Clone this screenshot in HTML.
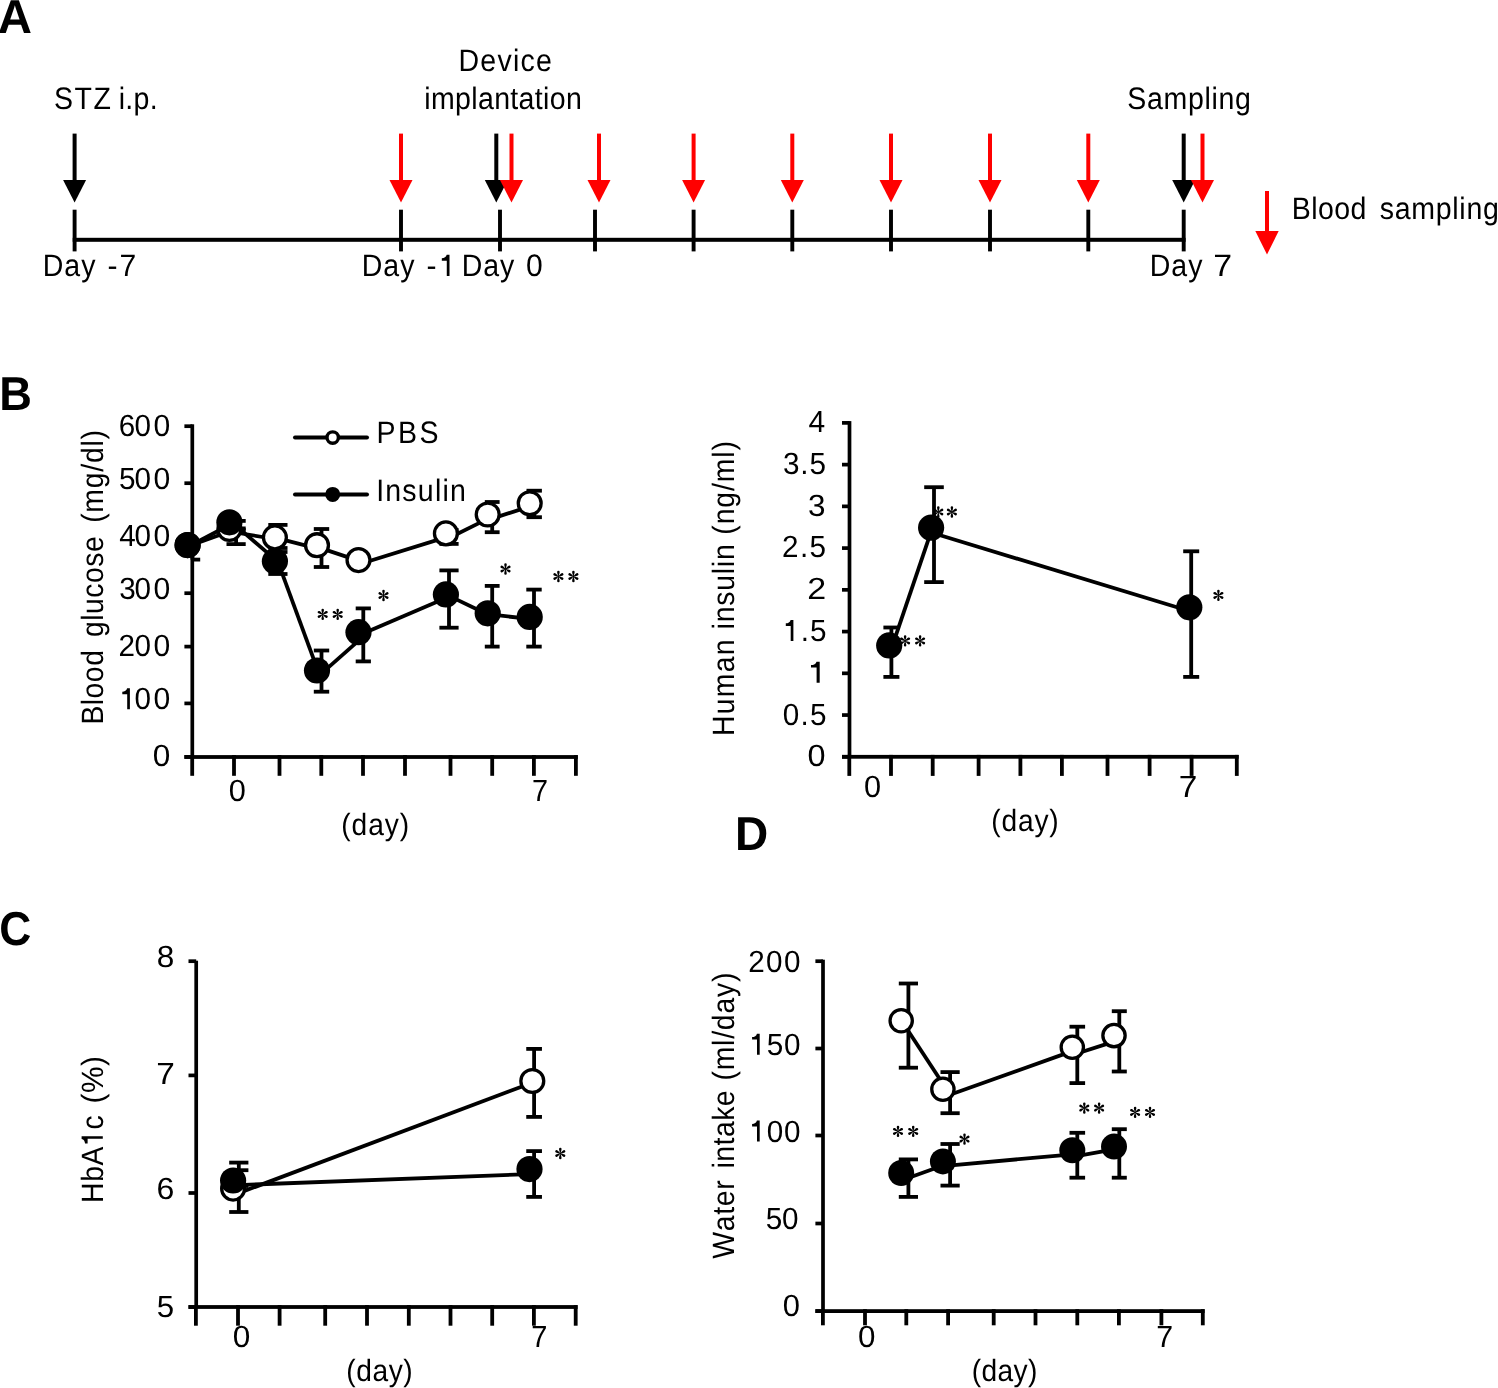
<!DOCTYPE html>
<html><head><meta charset="utf-8"><title>Figure</title>
<style>
html,body{margin:0;padding:0;background:#fff;}
body{width:1498px;height:1388px;overflow:hidden;}
svg{display:block;font-family:"Liberation Sans", sans-serif;font-kerning:none;will-change:transform;}
text{fill:#000;}
</style></head><body>
<svg width="1498" height="1388" viewBox="0 0 1498 1388" text-rendering="geometricPrecision">
<defs><g id="ast"><g transform="rotate(0)"><path d="M-0.3,0 C-0.5,-1.5 -1.25,-3.3 -1.25,-4.4 A1.25,1.25 0 1 1 1.25,-4.4 C1.25,-3.3 0.5,-1.5 0.3,0 Z"/></g><g transform="rotate(60)"><path d="M-0.3,0 C-0.5,-1.5 -1.25,-3.3 -1.25,-4.4 A1.25,1.25 0 1 1 1.25,-4.4 C1.25,-3.3 0.5,-1.5 0.3,0 Z"/></g><g transform="rotate(120)"><path d="M-0.3,0 C-0.5,-1.5 -1.25,-3.3 -1.25,-4.4 A1.25,1.25 0 1 1 1.25,-4.4 C1.25,-3.3 0.5,-1.5 0.3,0 Z"/></g><g transform="rotate(180)"><path d="M-0.3,0 C-0.5,-1.5 -1.25,-3.3 -1.25,-4.4 A1.25,1.25 0 1 1 1.25,-4.4 C1.25,-3.3 0.5,-1.5 0.3,0 Z"/></g><g transform="rotate(240)"><path d="M-0.3,0 C-0.5,-1.5 -1.25,-3.3 -1.25,-4.4 A1.25,1.25 0 1 1 1.25,-4.4 C1.25,-3.3 0.5,-1.5 0.3,0 Z"/></g><g transform="rotate(300)"><path d="M-0.3,0 C-0.5,-1.5 -1.25,-3.3 -1.25,-4.4 A1.25,1.25 0 1 1 1.25,-4.4 C1.25,-3.3 0.5,-1.5 0.3,0 Z"/></g><circle r="0.6"/></g></defs>
<rect width="1498" height="1388" fill="#fff"/>
<g transform="translate(0,33.4)">
<text x="-2.18" y="0" font-size="47.5" font-weight="700" textLength="34.23" lengthAdjust="spacingAndGlyphs">A</text>
</g>
<g transform="translate(0,109.1)">
<g transform="translate(55.2,0) scale(0.92,1)">
<text x="-1.41" y="0" font-size="31" textLength="62.05" lengthAdjust="spacing">STZ</text>
</g>
</g>
<g transform="translate(0,109.1)">
<g transform="translate(120.6,0) scale(0.92,1)">
<text x="-2.07" y="0" font-size="31" textLength="42.3" lengthAdjust="spacing">i.p.</text>
</g>
</g>
<g transform="translate(0,70.9)">
<g transform="translate(460.9,0) scale(0.92,1)">
<text x="-2.54" y="0" font-size="31" textLength="101.31" lengthAdjust="spacing">Device</text>
</g>
</g>
<g transform="translate(0,109)">
<g transform="translate(426.2,0) scale(0.92,1)">
<text x="-2.07" y="0" font-size="31" textLength="171.26" lengthAdjust="spacing">implantation</text>
</g>
</g>
<g transform="translate(0,108.8)">
<g transform="translate(1128.6,0) scale(0.92,1)">
<text x="-1.41" y="0" font-size="31" textLength="134.28" lengthAdjust="spacing">Sampling</text>
</g>
</g>
<g transform="translate(0,219.1)">
<g transform="translate(1294.2,0) scale(0.92,1)">
<text x="-2.54" y="0" font-size="31" textLength="81.06" lengthAdjust="spacing">Blood</text>
</g>
</g>
<g transform="translate(0,219.1)">
<g transform="translate(1380.5,0) scale(0.92,1)">
<text x="-0.86" y="0" font-size="31" textLength="129.49" lengthAdjust="spacing">sampling</text>
</g>
</g>
<g transform="translate(0,276.2)">
<g transform="translate(45,0) scale(0.92,1)">
<text x="-2.54" y="0" font-size="31" textLength="57.39" lengthAdjust="spacing">Day</text>
</g>
</g>
<g transform="translate(0,276.2)">
<g transform="translate(108.8,0) scale(0.97,1)">
<text x="-1.38" y="0" font-size="31" textLength="29.74" lengthAdjust="spacing">-7</text>
</g>
</g>
<g transform="translate(0,276)">
<g transform="translate(364.1,0) scale(0.92,1)">
<text x="-2.54" y="0" font-size="31" textLength="57.28" lengthAdjust="spacing">Day</text>
</g>
</g>
<g transform="translate(0,276)">
<g transform="translate(427.8,0) scale(0.97,1)">
<text x="-1.38" y="0" font-size="31" textLength="30.45" lengthAdjust="spacing">-&#8199;</text>
<path d="M510,0 L510,1010 L172,1010 L172,1180 C340,1190 470,1260 505,1409 L696,1409 L696,0 Z" transform="translate(11.84,0) scale(0.01514,-0.01514)"/>
</g>
</g>
<g transform="translate(0,276)">
<g transform="translate(464.2,0) scale(0.92,1)">
<text x="-2.54" y="0" font-size="31" textLength="56.84" lengthAdjust="spacing">Day</text>
</g>
</g>
<g transform="translate(0,276)">
<text x="526.02" y="0" font-size="31" textLength="16.75" lengthAdjust="spacingAndGlyphs">0</text>
</g>
<g transform="translate(0,275.8)">
<g transform="translate(1152,0) scale(0.92,1)">
<text x="-2.54" y="0" font-size="31" textLength="57.39" lengthAdjust="spacing">Day</text>
</g>
</g>
<g transform="translate(0,275.8)">
<text x="1213.16" y="0" font-size="31" textLength="18.84" lengthAdjust="spacingAndGlyphs">7</text>
</g>
<rect x="72.7" y="237.8" width="1112.9" height="4" fill="#000"/>
<rect x="72.65" y="209.7" width="3.9" height="41.7" fill="#000"/>
<rect x="399.05" y="209.7" width="3.9" height="41.7" fill="#000"/>
<rect x="498.05" y="209.7" width="3.9" height="41.7" fill="#000"/>
<rect x="593.05" y="209.7" width="3.9" height="41.7" fill="#000"/>
<rect x="691.65" y="209.7" width="3.9" height="41.7" fill="#000"/>
<rect x="790.35" y="209.7" width="3.9" height="41.7" fill="#000"/>
<rect x="889.05" y="209.7" width="3.9" height="41.7" fill="#000"/>
<rect x="988.05" y="209.7" width="3.9" height="41.7" fill="#000"/>
<rect x="1086.35" y="209.7" width="3.9" height="41.7" fill="#000"/>
<rect x="1181.75" y="209.7" width="3.9" height="41.7" fill="#000"/>
<rect x="72.6" y="133.6" width="4" height="47.4" fill="#000"/>
<polygon points="63.1,180 86.1,180 74.6,202.6" fill="#000"/>
<rect x="399" y="133.6" width="4" height="47.4" fill="#ff0000"/>
<polygon points="389.5,180 412.5,180 401,202.6" fill="#ff0000"/>
<rect x="494.3" y="133.6" width="4" height="47.4" fill="#000"/>
<polygon points="484.8,180 507.8,180 496.3,202.6" fill="#000"/>
<rect x="509.5" y="133.6" width="4" height="47.4" fill="#ff0000"/>
<polygon points="500,180 523,180 511.5,202.6" fill="#ff0000"/>
<rect x="597" y="133.6" width="4" height="47.4" fill="#ff0000"/>
<polygon points="587.5,180 610.5,180 599,202.6" fill="#ff0000"/>
<rect x="691.6" y="133.6" width="4" height="47.4" fill="#ff0000"/>
<polygon points="682.1,180 705.1,180 693.6,202.6" fill="#ff0000"/>
<rect x="790.3" y="133.6" width="4" height="47.4" fill="#ff0000"/>
<polygon points="780.8,180 803.8,180 792.3,202.6" fill="#ff0000"/>
<rect x="889" y="133.6" width="4" height="47.4" fill="#ff0000"/>
<polygon points="879.5,180 902.5,180 891,202.6" fill="#ff0000"/>
<rect x="988" y="133.6" width="4" height="47.4" fill="#ff0000"/>
<polygon points="978.5,180 1001.5,180 990,202.6" fill="#ff0000"/>
<rect x="1086.3" y="133.6" width="4" height="47.4" fill="#ff0000"/>
<polygon points="1076.8,180 1099.8,180 1088.3,202.6" fill="#ff0000"/>
<rect x="1181.7" y="133.6" width="4" height="47.4" fill="#000"/>
<polygon points="1172.2,180 1195.2,180 1183.7,202.6" fill="#000"/>
<rect x="1200.5" y="133.6" width="4" height="47.4" fill="#ff0000"/>
<polygon points="1191,180 1214,180 1202.5,202.6" fill="#ff0000"/>
<rect x="1265" y="191" width="4" height="41" fill="#ff0000"/>
<polygon points="1255.3,231 1278.7,231 1267,254.6" fill="#ff0000"/>
<g transform="translate(0,409.8)">
<text x="-0.83" y="0" font-size="47.5" font-weight="700" textLength="32.68" lengthAdjust="spacingAndGlyphs">B</text>
</g>
<rect x="190.45" y="424.3" width="3.7" height="332.7" fill="#000"/>
<rect x="184.4" y="755.05" width="7.9" height="3.7" fill="#000"/>
<rect x="184.4" y="701.55" width="7.9" height="3.7" fill="#000"/>
<rect x="184.4" y="644.75" width="7.9" height="3.7" fill="#000"/>
<rect x="184.4" y="591.35" width="7.9" height="3.7" fill="#000"/>
<rect x="184.4" y="536.35" width="7.9" height="3.7" fill="#000"/>
<rect x="184.4" y="481.35" width="7.9" height="3.7" fill="#000"/>
<rect x="184.4" y="424.35" width="7.9" height="3.7" fill="#000"/>
<rect x="184.4" y="755.1" width="393.4" height="3.8" fill="#000"/>
<rect x="190.3" y="755.1" width="3.8" height="20.7" fill="#000"/>
<rect x="232.1" y="755.1" width="3.8" height="20.7" fill="#000"/>
<rect x="277.6" y="755.1" width="3.8" height="20.7" fill="#000"/>
<rect x="319.4" y="755.1" width="3.8" height="20.7" fill="#000"/>
<rect x="361.1" y="755.1" width="3.8" height="20.7" fill="#000"/>
<rect x="403.1" y="755.1" width="3.8" height="20.7" fill="#000"/>
<rect x="448.6" y="755.1" width="3.8" height="20.7" fill="#000"/>
<rect x="490.3" y="755.1" width="3.8" height="20.7" fill="#000"/>
<rect x="532" y="755.1" width="3.8" height="20.7" fill="#000"/>
<rect x="574" y="755.1" width="3.8" height="20.7" fill="#000"/>
<g transform="translate(0,766.3)">
<text x="152.87" y="0" font-size="30.6" textLength="17.57" lengthAdjust="spacingAndGlyphs">0</text>
</g>
<g transform="translate(0,709.3)">
<g transform="translate(122.3,0) scale(0.97,1)">
<text x="-2.57" y="0" font-size="30.6" textLength="32.12" lengthAdjust="spacing">&#8199;0</text>
<path d="M510,0 L510,1010 L172,1010 L172,1180 C340,1190 470,1260 505,1409 L696,1409 L696,0 Z" transform="translate(-2.57,0) scale(0.01494,-0.01494)"/>
</g>
</g>
<g transform="translate(0,709.3)">
<text x="153.62" y="0" font-size="30.6" textLength="16.75" lengthAdjust="spacingAndGlyphs">0</text>
</g>
<g transform="translate(0,656)">
<g transform="translate(119.9,0) scale(0.97,1)">
<text x="-1.54" y="0" font-size="30.6" textLength="33.56" lengthAdjust="spacing">20</text>
</g>
</g>
<g transform="translate(0,656)">
<text x="153.62" y="0" font-size="30.6" textLength="16.75" lengthAdjust="spacingAndGlyphs">0</text>
</g>
<g transform="translate(0,599.3)">
<g transform="translate(120.4,0) scale(0.97,1)">
<text x="-1.17" y="0" font-size="30.6" textLength="32.67" lengthAdjust="spacing">30</text>
</g>
</g>
<g transform="translate(0,599.3)">
<text x="153.62" y="0" font-size="30.6" textLength="16.75" lengthAdjust="spacingAndGlyphs">0</text>
</g>
<g transform="translate(0,545.8)">
<g transform="translate(119.9,0) scale(0.97,1)">
<text x="-0.7" y="0" font-size="30.6" textLength="32.72" lengthAdjust="spacing">40</text>
</g>
</g>
<g transform="translate(0,545.8)">
<text x="153.62" y="0" font-size="30.6" textLength="16.75" lengthAdjust="spacingAndGlyphs">0</text>
</g>
<g transform="translate(0,489.2)">
<g transform="translate(120.1,0) scale(0.97,1)">
<text x="-1.23" y="0" font-size="30.6" textLength="33.04" lengthAdjust="spacing">50</text>
</g>
</g>
<g transform="translate(0,489.2)">
<text x="153.62" y="0" font-size="30.6" textLength="16.75" lengthAdjust="spacingAndGlyphs">0</text>
</g>
<g transform="translate(0,435.8)">
<g transform="translate(120.3,0) scale(0.97,1)">
<text x="-1.55" y="0" font-size="30.6" textLength="33.16" lengthAdjust="spacing">60</text>
</g>
</g>
<g transform="translate(0,435.8)">
<text x="153.62" y="0" font-size="30.6" textLength="16.75" lengthAdjust="spacingAndGlyphs">0</text>
</g>
<g transform="translate(0,800.5)">
<text x="228.8" y="0" font-size="30.6" textLength="17.1" lengthAdjust="spacingAndGlyphs">0</text>
</g>
<g transform="translate(0,800.7)">
<text x="531.92" y="0" font-size="30.6" textLength="16.03" lengthAdjust="spacingAndGlyphs">7</text>
</g>
<g transform="translate(0,834.5)">
<g transform="translate(343,0) scale(0.92,1)">
<text x="-1.9" y="0" font-size="30.6" textLength="73.9" lengthAdjust="spacing">(day)</text>
</g>
</g>
<g transform="translate(103,722.3) rotate(-90)">
<g transform="translate(0,0) scale(0.92,1)">
<text x="-2.53" y="0" font-size="30.8" textLength="81.03" lengthAdjust="spacing">Blood</text>
</g>
</g>
<g transform="translate(103,635.9) rotate(-90)">
<g transform="translate(0,0) scale(0.92,1)">
<text x="-1.29" y="0" font-size="30.8" textLength="109.51" lengthAdjust="spacing">glucose</text>
</g>
</g>
<g transform="translate(103,521.1) rotate(-90)">
<g transform="translate(0,0) scale(0.92,1)">
<text x="-1.91" y="0" font-size="30.8" textLength="100.89" lengthAdjust="spacing">(mg/dl)</text>
</g>
</g>
<line x1="295" y1="437.6" x2="367" y2="437.6" stroke="#000" stroke-width="4" stroke-linecap="round"/>
<circle cx="332.7" cy="437.6" r="5.7" fill="#fff" stroke="#000" stroke-width="3.4"/>
<g transform="translate(0,443.4)">
<g transform="translate(378.8,0) scale(0.92,1)">
<text x="-2.54" y="0" font-size="31" textLength="67.55" lengthAdjust="spacing">PBS</text>
</g>
</g>
<line x1="295" y1="494.4" x2="367" y2="494.4" stroke="#000" stroke-width="4" stroke-linecap="round"/>
<circle cx="332.7" cy="494.4" r="7.5" fill="#000"/>
<g transform="translate(0,500.8)">
<g transform="translate(378.8,0) scale(0.92,1)">
<text x="-2.86" y="0" font-size="31" textLength="97.48" lengthAdjust="spacing">Insulin</text>
</g>
</g>
<rect x="190.5" y="545" width="3.8" height="14.6" fill="#000"/>
<rect x="192.4" y="543.1" width="7.8" height="3.8" fill="#000"/>
<rect x="192.4" y="557.7" width="7.8" height="3.8" fill="#000"/>
<rect x="234.2" y="528.4" width="3.8" height="15.7" fill="#000"/>
<rect x="226.5" y="526.5" width="19.2" height="3.8" fill="#000"/>
<rect x="226.5" y="542.2" width="19.2" height="3.8" fill="#000"/>
<rect x="276" y="524.9" width="3.8" height="23.1" fill="#000"/>
<rect x="268.3" y="523" width="19.2" height="3.8" fill="#000"/>
<rect x="268.3" y="546.1" width="19.2" height="3.8" fill="#000"/>
<rect x="319.6" y="529" width="3.8" height="38" fill="#000"/>
<rect x="313.8" y="527.1" width="15.4" height="3.8" fill="#000"/>
<rect x="313.8" y="565.1" width="15.4" height="3.8" fill="#000"/>
<rect x="447.1" y="530" width="3.8" height="13.9" fill="#000"/>
<rect x="439.4" y="528.1" width="19.2" height="3.8" fill="#000"/>
<rect x="439.4" y="542" width="19.2" height="3.8" fill="#000"/>
<rect x="490.3" y="502" width="3.8" height="30.2" fill="#000"/>
<rect x="484.8" y="500.1" width="14.8" height="3.8" fill="#000"/>
<rect x="484.8" y="530.3" width="14.8" height="3.8" fill="#000"/>
<rect x="532.3" y="490.7" width="3.8" height="26.5" fill="#000"/>
<rect x="526.5" y="488.8" width="15.4" height="3.8" fill="#000"/>
<rect x="526.5" y="515.3" width="15.4" height="3.8" fill="#000"/>
<rect x="234.2" y="520.9" width="3.8" height="9.1" fill="#000"/>
<rect x="226.5" y="519" width="19.2" height="3.8" fill="#000"/>
<rect x="226.5" y="528.1" width="19.2" height="3.8" fill="#000"/>
<rect x="276" y="552" width="3.8" height="22" fill="#000"/>
<rect x="268.3" y="550.1" width="19.2" height="3.8" fill="#000"/>
<rect x="268.3" y="572.1" width="19.2" height="3.8" fill="#000"/>
<rect x="319.6" y="650.5" width="3.8" height="41.2" fill="#000"/>
<rect x="313.8" y="648.6" width="15.4" height="3.8" fill="#000"/>
<rect x="313.8" y="689.8" width="15.4" height="3.8" fill="#000"/>
<rect x="361.4" y="608.4" width="3.8" height="53" fill="#000"/>
<rect x="355.7" y="606.5" width="15.2" height="3.8" fill="#000"/>
<rect x="355.7" y="659.5" width="15.2" height="3.8" fill="#000"/>
<rect x="447.1" y="570.4" width="3.8" height="57.3" fill="#000"/>
<rect x="439.4" y="568.5" width="19.2" height="3.8" fill="#000"/>
<rect x="439.4" y="625.8" width="19.2" height="3.8" fill="#000"/>
<rect x="490.3" y="585.9" width="3.8" height="60.7" fill="#000"/>
<rect x="484.8" y="584" width="14.8" height="3.8" fill="#000"/>
<rect x="484.8" y="644.7" width="14.8" height="3.8" fill="#000"/>
<rect x="532.1" y="589.6" width="3.8" height="57" fill="#000"/>
<rect x="526.3" y="587.7" width="15.4" height="3.8" fill="#000"/>
<rect x="526.3" y="644.7" width="15.4" height="3.8" fill="#000"/>
<line x1="187.6" y1="546.5" x2="229.4" y2="531.5" stroke="#000" stroke-width="3.8"/>
<line x1="229.4" y1="531.5" x2="274.9" y2="539" stroke="#000" stroke-width="3.8"/>
<line x1="274.9" y1="537.69" x2="316.9" y2="548.32" stroke="#000" stroke-width="3.8"/>
<line x1="316.9" y1="546.87" x2="358.2" y2="560.63" stroke="#000" stroke-width="3.8"/>
<line x1="358.2" y1="564.5" x2="445.6" y2="537.34" stroke="#000" stroke-width="3.8"/>
<line x1="445.6" y1="539.72" x2="487.5" y2="518.87" stroke="#000" stroke-width="3.8"/>
<line x1="487.5" y1="520.09" x2="530" y2="506.4" stroke="#000" stroke-width="3.8"/>
<circle cx="187.6" cy="545.1" r="11.45" fill="#fff" stroke="#000" stroke-width="3.3"/>
<circle cx="229.4" cy="529" r="11.45" fill="#fff" stroke="#000" stroke-width="3.3"/>
<circle cx="274.9" cy="537.4" r="11.45" fill="#fff" stroke="#000" stroke-width="3.3"/>
<circle cx="317" cy="545.2" r="11.45" fill="#fff" stroke="#000" stroke-width="3.3"/>
<circle cx="358.5" cy="560.1" r="11.45" fill="#fff" stroke="#000" stroke-width="3.3"/>
<circle cx="445.9" cy="533.4" r="11.45" fill="#fff" stroke="#000" stroke-width="3.3"/>
<circle cx="487.7" cy="514.5" r="11.45" fill="#fff" stroke="#000" stroke-width="3.3"/>
<circle cx="529.7" cy="503.3" r="11.45" fill="#fff" stroke="#000" stroke-width="3.3"/>
<line x1="187.6" y1="547" x2="229.4" y2="525" stroke="#000" stroke-width="3.8"/>
<line x1="229.4" y1="520.09" x2="274.8" y2="559.09" stroke="#000" stroke-width="3.8"/>
<line x1="274.8" y1="553.36" x2="316.8" y2="667.69" stroke="#000" stroke-width="3.8"/>
<line x1="316.8" y1="677.69" x2="358.4" y2="640.92" stroke="#000" stroke-width="3.8"/>
<line x1="358.4" y1="635.53" x2="445.9" y2="598.05" stroke="#000" stroke-width="3.8"/>
<line x1="445.9" y1="594.35" x2="487.8" y2="614.55" stroke="#000" stroke-width="3.8"/>
<line x1="487.8" y1="614.22" x2="529.6" y2="618.87" stroke="#000" stroke-width="3.8"/>
<circle cx="187.6" cy="545.1" r="13.1" fill="#000"/>
<circle cx="229.4" cy="522.3" r="13.1" fill="#000"/>
<circle cx="274.9" cy="561.2" r="13.1" fill="#000"/>
<circle cx="317" cy="670.5" r="13.1" fill="#000"/>
<circle cx="358.5" cy="632.2" r="13.1" fill="#000"/>
<circle cx="445.9" cy="594.4" r="13.1" fill="#000"/>
<circle cx="487.7" cy="613.3" r="13.1" fill="#000"/>
<circle cx="529.7" cy="616.9" r="13.1" fill="#000"/>
<use href="#ast" transform="translate(322.7,614.4) scale(1)"/>
<use href="#ast" transform="translate(337.7,614.4) scale(1)"/>
<use href="#ast" transform="translate(383.5,595.5) scale(1)"/>
<use href="#ast" transform="translate(505.5,569) scale(1)"/>
<use href="#ast" transform="translate(558.4,576.5) scale(1)"/>
<use href="#ast" transform="translate(573.4,576.5) scale(1)"/>
<rect x="847.65" y="421.1" width="3.7" height="335.9" fill="#000"/>
<rect x="842" y="754.95" width="7.5" height="3.7" fill="#000"/>
<rect x="842" y="713.21" width="7.5" height="3.7" fill="#000"/>
<rect x="842" y="671.47" width="7.5" height="3.7" fill="#000"/>
<rect x="842" y="629.73" width="7.5" height="3.7" fill="#000"/>
<rect x="842" y="587.99" width="7.5" height="3.7" fill="#000"/>
<rect x="842" y="546.25" width="7.5" height="3.7" fill="#000"/>
<rect x="842" y="504.51" width="7.5" height="3.7" fill="#000"/>
<rect x="842" y="462.77" width="7.5" height="3.7" fill="#000"/>
<rect x="842" y="421.03" width="7.5" height="3.7" fill="#000"/>
<rect x="842" y="754.9" width="396.6" height="3.8" fill="#000"/>
<rect x="847.4" y="754.9" width="3.8" height="21" fill="#000"/>
<rect x="889.1" y="754.9" width="3.8" height="21" fill="#000"/>
<rect x="930.8" y="754.9" width="3.8" height="21" fill="#000"/>
<rect x="976.7" y="754.9" width="3.8" height="21" fill="#000"/>
<rect x="1018.5" y="754.9" width="3.8" height="21" fill="#000"/>
<rect x="1060" y="754.9" width="3.8" height="21" fill="#000"/>
<rect x="1105.6" y="754.9" width="3.8" height="21" fill="#000"/>
<rect x="1147.7" y="754.9" width="3.8" height="21" fill="#000"/>
<rect x="1189.7" y="754.9" width="3.8" height="21" fill="#000"/>
<rect x="1234.9" y="754.9" width="3.8" height="21" fill="#000"/>
<g transform="translate(0,766.3)">
<text x="807.63" y="0" font-size="30.6" textLength="18.03" lengthAdjust="spacingAndGlyphs">0</text>
</g>
<g transform="translate(0,724.5)">
<g transform="translate(784,0) scale(0.97,1)">
<text x="-1.2" y="0" font-size="30.6" textLength="44.95" lengthAdjust="spacing">0.5</text>
</g>
</g>
<g transform="translate(0,682.7)">
<text x="808.14" y="0" font-size="30.6" textLength="18.91" lengthAdjust="spacingAndGlyphs">&#8199;</text>
<path d="M510,0 L510,1010 L172,1010 L172,1180 C340,1190 470,1260 505,1409 L696,1409 L696,0 Z" transform="translate(808.14,0) scale(0.01660,-0.01494)"/>
</g>
<g transform="translate(0,641)">
<g transform="translate(785.8,0) scale(0.97,1)">
<text x="-2.57" y="0" font-size="30.6" textLength="44.47" lengthAdjust="spacing">&#8199;.5</text>
<path d="M510,0 L510,1010 L172,1010 L172,1180 C340,1190 470,1260 505,1409 L696,1409 L696,0 Z" transform="translate(-2.57,0) scale(0.01494,-0.01494)"/>
</g>
</g>
<g transform="translate(0,599.2)">
<text x="807.19" y="0" font-size="30.6" textLength="18.92" lengthAdjust="spacingAndGlyphs">2</text>
</g>
<g transform="translate(0,556.8)">
<g transform="translate(783.6,0) scale(0.97,1)">
<text x="-1.54" y="0" font-size="30.6" textLength="45.2" lengthAdjust="spacing">2.5</text>
</g>
</g>
<g transform="translate(0,515.8)">
<text x="808.1" y="0" font-size="30.6" textLength="17.48" lengthAdjust="spacingAndGlyphs">3</text>
</g>
<g transform="translate(0,473.9)">
<g transform="translate(784,0) scale(0.97,1)">
<text x="-1.17" y="0" font-size="30.6" textLength="44.41" lengthAdjust="spacing">3.5</text>
</g>
</g>
<g transform="translate(0,431.5)">
<text x="808.41" y="0" font-size="30.6" textLength="16.67" lengthAdjust="spacingAndGlyphs">4</text>
</g>
<g transform="translate(0,796.9)">
<text x="864" y="0" font-size="30.6" textLength="17.1" lengthAdjust="spacingAndGlyphs">0</text>
</g>
<g transform="translate(0,796.7)">
<text x="1178.79" y="0" font-size="30.6" textLength="18.6" lengthAdjust="spacingAndGlyphs">7</text>
</g>
<g transform="translate(0,830.6)">
<g transform="translate(993.1,0) scale(0.92,1)">
<text x="-1.9" y="0" font-size="30.6" textLength="73.14" lengthAdjust="spacing">(day)</text>
</g>
</g>
<g transform="translate(734.2,733.8) rotate(-90)">
<g transform="translate(0,0) scale(0.92,1)">
<text x="-2.53" y="0" font-size="30.8" textLength="105.18" lengthAdjust="spacing">Human</text>
</g>
</g>
<g transform="translate(734.2,627.5) rotate(-90)">
<g transform="translate(0,0) scale(0.92,1)">
<text x="-2.06" y="0" font-size="30.8" textLength="92.54" lengthAdjust="spacing">insulin</text>
</g>
</g>
<g transform="translate(734.2,532.9) rotate(-90)">
<g transform="translate(0,0) scale(0.92,1)">
<text x="-1.91" y="0" font-size="30.8" textLength="101.65" lengthAdjust="spacing">(ng/ml)</text>
</g>
</g>
<use href="#ast" transform="translate(905.1,640.9) scale(1)"/>
<use href="#ast" transform="translate(920.1,640.9) scale(1)"/>
<use href="#ast" transform="translate(938.3,512) scale(1)"/>
<use href="#ast" transform="translate(951.9,512) scale(1)"/>
<use href="#ast" transform="translate(1218.4,595.4) scale(1)"/>
<rect x="889.5" y="627.5" width="3.8" height="49.4" fill="#000"/>
<rect x="883.4" y="625.6" width="16" height="3.8" fill="#000"/>
<rect x="883.4" y="675" width="16" height="3.8" fill="#000"/>
<rect x="932.1" y="487.2" width="3.8" height="94.9" fill="#000"/>
<rect x="924.2" y="485.3" width="19.6" height="3.8" fill="#000"/>
<rect x="924.2" y="580.2" width="19.6" height="3.8" fill="#000"/>
<rect x="1189.3" y="551.3" width="3.8" height="125.6" fill="#000"/>
<rect x="1183.2" y="549.4" width="16" height="3.8" fill="#000"/>
<rect x="1183.2" y="675" width="16" height="3.8" fill="#000"/>
<line x1="889.2" y1="655.14" x2="931.1" y2="531.72" stroke="#000" stroke-width="3.8"/>
<line x1="931.1" y1="532.49" x2="1189.3" y2="611.01" stroke="#000" stroke-width="3.8"/>
<circle cx="889.2" cy="645.4" r="13.1" fill="#000"/>
<circle cx="931.1" cy="527.7" r="13.1" fill="#000"/>
<circle cx="1189.3" cy="607.3" r="13.1" fill="#000"/>
<g transform="translate(0,945.2)">
<text x="-0.82" y="0" font-size="47.5" font-weight="700" textLength="32.03" lengthAdjust="spacingAndGlyphs">C</text>
</g>
<rect x="194.35" y="960.7" width="3.7" height="346.3" fill="#000"/>
<rect x="188.5" y="1305.15" width="7.7" height="3.7" fill="#000"/>
<rect x="188.5" y="1191.15" width="7.7" height="3.7" fill="#000"/>
<rect x="188.5" y="1073.55" width="7.7" height="3.7" fill="#000"/>
<rect x="188.5" y="959.35" width="7.7" height="3.7" fill="#000"/>
<rect x="188.5" y="1305.1" width="389.1" height="3.8" fill="#000"/>
<rect x="194" y="1305.1" width="3.8" height="20.6" fill="#000"/>
<rect x="236.1" y="1305.1" width="3.8" height="20.6" fill="#000"/>
<rect x="277.7" y="1305.1" width="3.8" height="20.6" fill="#000"/>
<rect x="323.3" y="1305.1" width="3.8" height="20.6" fill="#000"/>
<rect x="365.1" y="1305.1" width="3.8" height="20.6" fill="#000"/>
<rect x="406.9" y="1305.1" width="3.8" height="20.6" fill="#000"/>
<rect x="448.6" y="1305.1" width="3.8" height="20.6" fill="#000"/>
<rect x="490.3" y="1305.1" width="3.8" height="20.6" fill="#000"/>
<rect x="532" y="1305.1" width="3.8" height="20.6" fill="#000"/>
<rect x="573.8" y="1305.1" width="3.8" height="20.6" fill="#000"/>
<g transform="translate(0,1316.6)">
<text x="156.85" y="0" font-size="30.6" textLength="17.36" lengthAdjust="spacingAndGlyphs">5</text>
</g>
<g transform="translate(0,1198.9)">
<text x="156.47" y="0" font-size="30.6" textLength="17.84" lengthAdjust="spacingAndGlyphs">6</text>
</g>
<g transform="translate(0,1084.2)">
<text x="156.39" y="0" font-size="30.6" textLength="18.6" lengthAdjust="spacingAndGlyphs">7</text>
</g>
<g transform="translate(0,967.2)">
<text x="156.73" y="0" font-size="30.6" textLength="17.54" lengthAdjust="spacingAndGlyphs">8</text>
</g>
<g transform="translate(0,1346.9)">
<text x="232.87" y="0" font-size="30.6" textLength="17.57" lengthAdjust="spacingAndGlyphs">0</text>
</g>
<g transform="translate(0,1347)">
<text x="531.21" y="0" font-size="30.6" textLength="16.15" lengthAdjust="spacingAndGlyphs">7</text>
</g>
<g transform="translate(0,1381)">
<g transform="translate(347.9,0) scale(0.92,1)">
<text x="-1.9" y="0" font-size="30.6" textLength="72.38" lengthAdjust="spacing">(day)</text>
</g>
</g>
<g transform="translate(102.8,1200.6) rotate(-90)">
<g transform="translate(0,0) scale(0.92,1)">
<text x="-2.53" y="0" font-size="30.8" textLength="95.19" lengthAdjust="spacing">HbA&#8199;c</text>
<path d="M510,0 L510,1010 L172,1010 L172,1180 C340,1190 470,1260 505,1409 L696,1409 L696,0 Z" transform="translate(59.45,0) scale(0.01504,-0.01504)"/>
</g>
</g>
<g transform="translate(102.8,1101.6) rotate(-90)">
<g transform="translate(0,0) scale(0.97,1)">
<text x="-1.91" y="0" font-size="30.8" textLength="48.87" lengthAdjust="spacing">(%)</text>
</g>
</g>
<rect x="236.9" y="1162.6" width="3.8" height="49.4" fill="#000"/>
<rect x="229.2" y="1160.7" width="19.2" height="3.8" fill="#000"/>
<rect x="229.2" y="1210.1" width="19.2" height="3.8" fill="#000"/>
<rect x="236.9" y="1170.2" width="3.8" height="15.8" fill="#000"/>
<rect x="229.2" y="1168.3" width="19.2" height="3.8" fill="#000"/>
<rect x="229.2" y="1184.1" width="19.2" height="3.8" fill="#000"/>
<rect x="532.2" y="1048.9" width="3.8" height="68" fill="#000"/>
<rect x="526.25" y="1047" width="15.7" height="3.8" fill="#000"/>
<rect x="526.25" y="1115" width="15.7" height="3.8" fill="#000"/>
<rect x="532.2" y="1151.1" width="3.8" height="45.8" fill="#000"/>
<rect x="526.25" y="1149.2" width="15.7" height="3.8" fill="#000"/>
<rect x="526.25" y="1195" width="15.7" height="3.8" fill="#000"/>
<line x1="233.3" y1="1195.13" x2="532.8" y2="1082.5" stroke="#000" stroke-width="3.8"/>
<circle cx="233.1" cy="1188.6" r="11.45" fill="#fff" stroke="#000" stroke-width="3.3"/>
<line x1="231.9" y1="1185.36" x2="529.3" y2="1174.13" stroke="#000" stroke-width="3.8"/>
<circle cx="233.1" cy="1180.5" r="13.1" fill="#000"/>
<circle cx="532.3" cy="1081" r="11.45" fill="#fff" stroke="#000" stroke-width="3.3"/>
<circle cx="529.5" cy="1169.1" r="13.1" fill="#000"/>
<use href="#ast" transform="translate(560.3,1153.5) scale(1)"/>
<g transform="translate(0,849.7)">
<text x="735.12" y="0" font-size="47.5" font-weight="700" textLength="33.21" lengthAdjust="spacingAndGlyphs">D</text>
</g>
<rect x="821.15" y="959.7" width="3.7" height="351.4" fill="#000"/>
<rect x="815.4" y="1309.25" width="7.6" height="3.7" fill="#000"/>
<rect x="815.4" y="1221.65" width="7.6" height="3.7" fill="#000"/>
<rect x="815.4" y="1133.65" width="7.6" height="3.7" fill="#000"/>
<rect x="815.4" y="1046.65" width="7.6" height="3.7" fill="#000"/>
<rect x="815.4" y="959.35" width="7.6" height="3.7" fill="#000"/>
<rect x="815.4" y="1309.2" width="389.2" height="3.8" fill="#000"/>
<rect x="821" y="1309.2" width="3.8" height="16.1" fill="#000"/>
<rect x="863.1" y="1309.2" width="3.8" height="16.1" fill="#000"/>
<rect x="904.4" y="1309.2" width="3.8" height="16.1" fill="#000"/>
<rect x="946.2" y="1309.2" width="3.8" height="16.1" fill="#000"/>
<rect x="991.8" y="1309.2" width="3.8" height="16.1" fill="#000"/>
<rect x="1033.6" y="1309.2" width="3.8" height="16.1" fill="#000"/>
<rect x="1075.4" y="1309.2" width="3.8" height="16.1" fill="#000"/>
<rect x="1117" y="1309.2" width="3.8" height="16.1" fill="#000"/>
<rect x="1159.5" y="1309.2" width="3.8" height="16.1" fill="#000"/>
<rect x="1200.9" y="1309.2" width="3.8" height="16.1" fill="#000"/>
<g transform="translate(0,1316.3)">
<text x="782.89" y="0" font-size="30.6" textLength="17.22" lengthAdjust="spacingAndGlyphs">0</text>
</g>
<g transform="translate(0,1229.1)">
<g transform="translate(767,0) scale(0.97,1)">
<text x="-1.23" y="0" font-size="30.6" textLength="33.66" lengthAdjust="spacing">50</text>
</g>
</g>
<g transform="translate(0,1141.6)">
<g transform="translate(752.1,0) scale(0.97,1)">
<text x="-2.57" y="0" font-size="30.6" textLength="52.43" lengthAdjust="spacing">&#8199;00</text>
<path d="M510,0 L510,1010 L172,1010 L172,1180 C340,1190 470,1260 505,1409 L696,1409 L696,0 Z" transform="translate(-2.57,0) scale(0.01494,-0.01494)"/>
</g>
</g>
<g transform="translate(0,1054.7)">
<g transform="translate(752.1,0) scale(0.97,1)">
<text x="-2.57" y="0" font-size="30.6" textLength="52.43" lengthAdjust="spacing">&#8199;50</text>
<path d="M510,0 L510,1010 L172,1010 L172,1180 C340,1190 470,1260 505,1409 L696,1409 L696,0 Z" transform="translate(-2.57,0) scale(0.01494,-0.01494)"/>
</g>
</g>
<g transform="translate(0,971.5)">
<g transform="translate(749.8,0) scale(0.97,1)">
<text x="-1.54" y="0" font-size="30.6" textLength="53.77" lengthAdjust="spacing">200</text>
</g>
</g>
<g transform="translate(0,1346.9)">
<text x="858.07" y="0" font-size="30.6" textLength="17.45" lengthAdjust="spacingAndGlyphs">0</text>
</g>
<g transform="translate(0,1347)">
<text x="1156.14" y="0" font-size="30.6" textLength="16.88" lengthAdjust="spacingAndGlyphs">7</text>
</g>
<g transform="translate(0,1381.3)">
<g transform="translate(973.4,0) scale(0.92,1)">
<text x="-1.9" y="0" font-size="30.6" textLength="71.51" lengthAdjust="spacing">(day)</text>
</g>
</g>
<g transform="translate(734.4,1258.6) rotate(-90)">
<g transform="translate(0,0) scale(0.92,1)">
<text x="-0.14" y="0" font-size="30.8" textLength="85.21" lengthAdjust="spacing">Water</text>
</g>
</g>
<g transform="translate(734.4,1166.5) rotate(-90)">
<g transform="translate(0,0) scale(0.92,1)">
<text x="-2.06" y="0" font-size="30.8" textLength="84.84" lengthAdjust="spacing">intake</text>
</g>
</g>
<g transform="translate(734.4,1078.8) rotate(-90)">
<g transform="translate(0,0) scale(0.92,1)">
<text x="-1.91" y="0" font-size="30.8" textLength="117.3" lengthAdjust="spacing">(ml/day)</text>
</g>
</g>
<rect x="906.5" y="983.5" width="3.8" height="84.2" fill="#000"/>
<rect x="898.8" y="981.6" width="19.2" height="3.8" fill="#000"/>
<rect x="898.8" y="1065.8" width="19.2" height="3.8" fill="#000"/>
<rect x="948.2" y="1072.1" width="3.8" height="41.1" fill="#000"/>
<rect x="940.5" y="1070.2" width="19.2" height="3.8" fill="#000"/>
<rect x="940.5" y="1111.3" width="19.2" height="3.8" fill="#000"/>
<rect x="1075.4" y="1026.7" width="3.8" height="56.4" fill="#000"/>
<rect x="1069.5" y="1024.8" width="15.6" height="3.8" fill="#000"/>
<rect x="1069.5" y="1081.2" width="15.6" height="3.8" fill="#000"/>
<rect x="1117.4" y="1011.2" width="3.8" height="60.3" fill="#000"/>
<rect x="1111.8" y="1009.3" width="15" height="3.8" fill="#000"/>
<rect x="1111.8" y="1069.6" width="15" height="3.8" fill="#000"/>
<rect x="906.5" y="1159.4" width="3.8" height="37.5" fill="#000"/>
<rect x="898.8" y="1157.5" width="19.2" height="3.8" fill="#000"/>
<rect x="898.8" y="1195" width="19.2" height="3.8" fill="#000"/>
<rect x="948.2" y="1144" width="3.8" height="41.6" fill="#000"/>
<rect x="940.5" y="1142.1" width="19.2" height="3.8" fill="#000"/>
<rect x="940.5" y="1183.7" width="19.2" height="3.8" fill="#000"/>
<rect x="1075.4" y="1132.8" width="3.8" height="44.9" fill="#000"/>
<rect x="1069.5" y="1130.9" width="15.6" height="3.8" fill="#000"/>
<rect x="1069.5" y="1175.8" width="15.6" height="3.8" fill="#000"/>
<rect x="1117.4" y="1129.2" width="3.8" height="48.5" fill="#000"/>
<rect x="1111.8" y="1127.3" width="15" height="3.8" fill="#000"/>
<rect x="1111.8" y="1175.8" width="15" height="3.8" fill="#000"/>
<line x1="901.2" y1="1020.22" x2="942.9" y2="1083.8" stroke="#000" stroke-width="3.8"/>
<line x1="942.9" y1="1097.17" x2="1072.3" y2="1051.14" stroke="#000" stroke-width="3.8"/>
<line x1="1072.3" y1="1054.96" x2="1114" y2="1041.68" stroke="#000" stroke-width="3.8"/>
<circle cx="901.2" cy="1020.8" r="11.15" fill="#fff" stroke="#000" stroke-width="3.3"/>
<circle cx="942.9" cy="1089.2" r="11.15" fill="#fff" stroke="#000" stroke-width="3.3"/>
<circle cx="1072.3" cy="1047.2" r="11.15" fill="#fff" stroke="#000" stroke-width="3.3"/>
<circle cx="1114" cy="1035.6" r="11.15" fill="#fff" stroke="#000" stroke-width="3.3"/>
<line x1="901.2" y1="1180.54" x2="942.9" y2="1165.46" stroke="#000" stroke-width="3.8"/>
<line x1="942.9" y1="1166.09" x2="1072.3" y2="1154.34" stroke="#000" stroke-width="3.8"/>
<line x1="1072.3" y1="1156.82" x2="1114" y2="1149.28" stroke="#000" stroke-width="3.8"/>
<circle cx="901.2" cy="1173" r="13" fill="#000"/>
<circle cx="942.9" cy="1161.4" r="13" fill="#000"/>
<circle cx="1072.3" cy="1150.2" r="13" fill="#000"/>
<circle cx="1114" cy="1146.6" r="13" fill="#000"/>
<use href="#ast" transform="translate(898,1131.4) scale(1)"/>
<use href="#ast" transform="translate(913.2,1131.4) scale(1)"/>
<use href="#ast" transform="translate(964.5,1139.1) scale(1)"/>
<use href="#ast" transform="translate(1084.3,1108.1) scale(1)"/>
<use href="#ast" transform="translate(1099.1,1108.1) scale(1)"/>
<use href="#ast" transform="translate(1135.1,1112.4) scale(1)"/>
<use href="#ast" transform="translate(1150,1112.4) scale(1)"/>
</svg>
</body></html>
